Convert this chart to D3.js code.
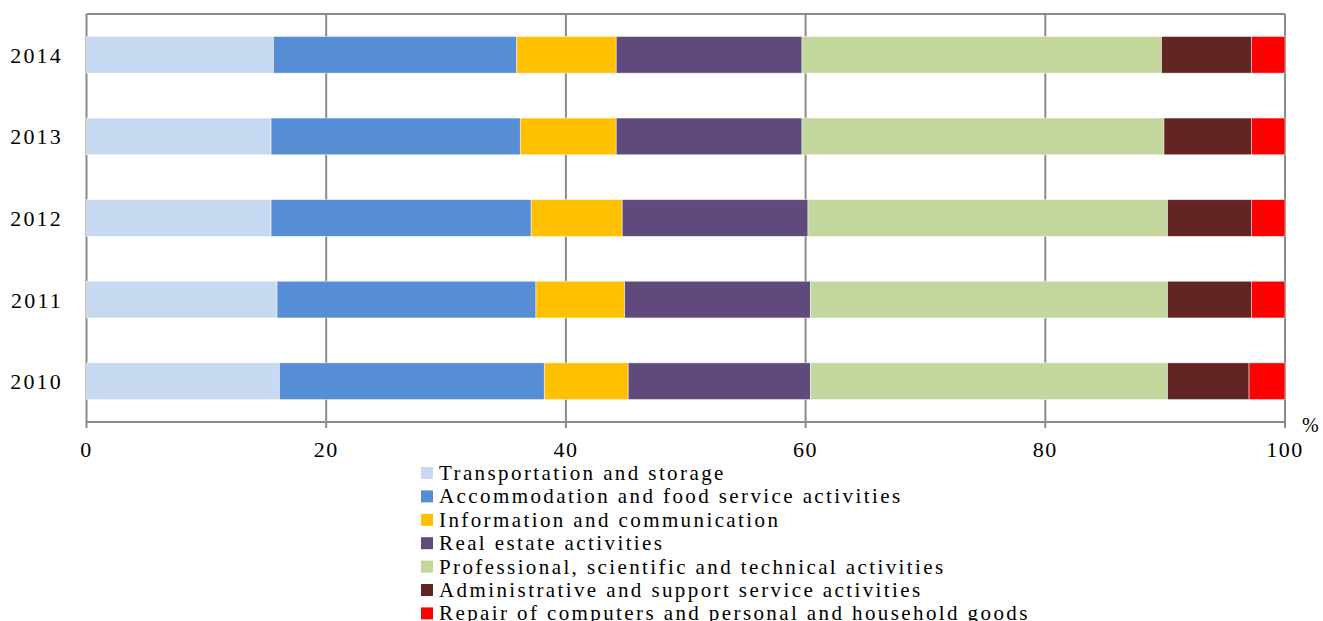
<!DOCTYPE html>
<html lang="en">
<head>
	<meta charset="utf-8">
	<script src="https://d3js.org/d3.v7.min.js"></script>
	<style>
		body { margin: 0; background: #fff; }
		text { font-family: "Liberation Serif", "Times New Roman", serif; fill: #000; }
	</style>
</head>
<body>
	<div id="chart"></div>

	<script>
		// years top to bottom
		const years = ["2014", "2013", "2012", "2011", "2010"]

		const sectors = [
			"Transportation and storage",
			"Accommodation and food service activities",
			"Information and communication",
			"Real estate activities",
			"Professional, scientific and technical activities",
			"Administrative and support service activities",
			"Repair of computers and personal and household goods"
		]

		const colors = ["#C6D9F1", "#558ED5", "#FFC000", "#604A7B", "#C3D69B", "#632523", "#FF0000"]

		// shares in %, one array per year
		const v2014 = [15.6, 20.3, 8.3, 15.5, 30.0, 7.5, 2.8]
		const v2013 = [15.4, 20.8, 8.0, 15.5, 30.2, 7.3, 2.8]
		const v2012 = [15.4, 21.7, 7.6, 15.5, 30.0, 7.0, 2.8]
		const v2011 = [15.9, 21.6, 7.4, 15.5, 29.8, 7.0, 2.8]
		const v2010 = [16.1, 22.1, 7.0, 15.2, 29.8, 6.8, 3.0]

		const xTicks = [0, 20, 40, 60, 80, 100]

		const values = { "2014": v2014, "2013": v2013, "2012": v2012, "2011": v2011, "2010": v2010 }

		const width = 1323, height = 621
		const mLeft = 86.5, mRight = 1285, mTop = 14, mBottom = 422

		const svg = d3.select("#chart").append("svg")
			.attr("width", width)
			.attr("height", height)

		const x = d3.scaleLinear().domain([0, 100]).range([mLeft, mRight])
		const y = d3.scaleBand().domain(years).range([mTop, mBottom])
			.paddingInner(0.55).paddingOuter(0.275)

		// grid lines
		svg.selectAll("line.grid")
			.data(xTicks)
			.enter()
			.append("line")
			.attr("x1", d => x(d)).attr("x2", d => x(d))
			.attr("y1", mTop).attr("y2", mBottom + 6)
			.style("stroke", "#8a8a8a")
			.style("stroke-width", 2)

		// top border
		svg.append("line")
			.attr("x1", mLeft).attr("x2", mRight)
			.attr("y1", mTop).attr("y2", mTop)
			.style("stroke", "#8a8a8a")
			.style("stroke-width", 2)

		// stacked bars
		let rows = []
		years.forEach(yr => {
			let acc = 0
			values[yr].forEach((v, i) => {
				rows.push({ year: yr, i: i, x0: acc, x1: acc + v })
				acc += v
			})
		})

		svg.selectAll("rect.seg")
			.data(rows)
			.enter()
			.append("rect")
			.attr("x", d => x(d.x0))
			.attr("y", d => y(d.year))
			.attr("width", d => x(d.x1) - x(d.x0))
			.attr("height", y.bandwidth())
			.attr("fill", d => colors[d.i])
			.style("stroke", "#fff")
			.style("stroke-opacity", 0.6)
			.style("stroke-width", 0.8)

		// bottom axis line
		svg.append("line")
			.attr("x1", mLeft).attr("x2", mRight)
			.attr("y1", mBottom).attr("y2", mBottom)
			.style("stroke", "#8a8a8a")
			.style("stroke-width", 2)

		// x tick labels
		svg.selectAll("text.xt")
			.data(xTicks)
			.enter()
			.append("text")
			.attr("x", d => x(d))
			.attr("y", 457)
			.attr("text-anchor", "middle")
			.style("font-size", "22px")
			.style("letter-spacing", "1.5px")
			.text(d => d)

		svg.append("text")
			.attr("x", 1302)
			.attr("y", 432)
			.style("font-size", "20px")
			.text("%")

		// year labels
		svg.selectAll("text.yt")
			.data(years)
			.enter()
			.append("text")
			.attr("x", 63)
			.attr("y", d => y(d) + y.bandwidth() / 2 + 8)
			.attr("text-anchor", "end")
			.style("font-size", "22px")
			.style("letter-spacing", "2.2px")
			.text(d => d)

		// legend
		const lg = svg.selectAll("g.legend")
			.data(sectors)
			.enter()
			.append("g")
			.attr("transform", (d, i) => "translate(421," + (467 + i * 23.4) + ")")

		lg.append("rect")
			.attr("width", 12)
			.attr("height", 12)
			.attr("fill", (d, i) => colors[i])

		lg.append("text")
			.attr("x", 18)
			.attr("y", 13)
			.style("font-size", "21px")
			.style("letter-spacing", "2.4px")
			.text(d => d)
	</script>
</body>
</html>
